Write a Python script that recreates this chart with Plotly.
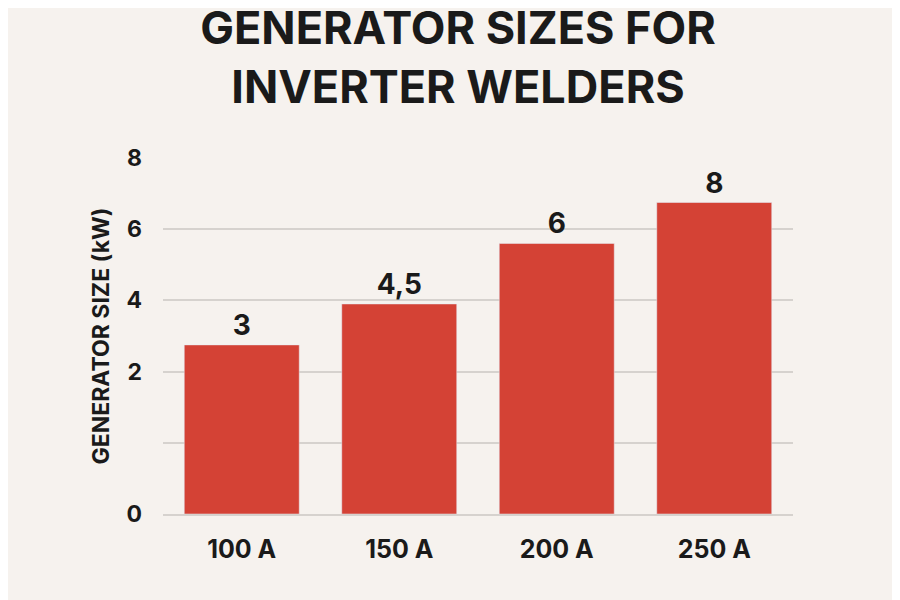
import plotly.graph_objects as go

categories = ["100 A", "150 A", "200 A", "250 A"]
values = [2.75, 3.9, 5.6, 6.75]          # heights (kW)
value_labels = ["3", "4,5", "6", "8"]     # labels printed above bars
tick_values = [0, 2, 4, 6, 8]
tick_labels = ["0", "2", "4", "6", "8"]

# axis is non-uniform: 0 -> pos 0, 2 -> pos 2, then each 2 kW = one gridline
def pos(v):
    return v / 2 + 1 if v >= 2 else v

fig = go.Figure(go.Bar(
    x=categories, y=[pos(v) for v in values],
    marker_color="#d44235", width=0.73,
    text=[f"<b>{t}</b>" for t in value_labels], textposition="outside",
    textfont=dict(size=28, color="#1a1a1a", family="Inter"),
    cliponaxis=False,
))
fig.update_layout(
    width=900, height=600,
    paper_bgcolor="#f6f2ee", plot_bgcolor="#f6f2ee",
    margin=dict(l=155, r=115, t=150, b=94),
    title=dict(text="<b>GENERATOR SIZES FOR<br>INVERTER WELDERS</b>", x=0.5, xanchor="center",
               y=0.94, yanchor="top", font=dict(size=45, color="#1a1a1a", family="Inter")),
    font=dict(family="Inter", color="#1a1a1a"),
    showlegend=False,
)
fig.update_yaxes(range=[0, 5], tickvals=[pos(v) for v in tick_values] + [1], ticktext=tick_labels + [""],
                 showgrid=True, gridcolor="#d6d2ce", gridwidth=1.5, zeroline=False,
                 tickfont=dict(size=23, family="Inter", weight="bold"), ticks="", ticklabelstandoff=20,
                 title=dict(text="<b>GENERATOR SIZE (kW)</b>", font=dict(size=23), standoff=10))
fig.update_xaxes(tickfont=dict(size=25, family="Inter", weight="bold"), showline=True,
                 linecolor="#d6d2ce", linewidth=1.5, ticks="", ticklabelstandoff=12)
fig.write_html("out.html")
